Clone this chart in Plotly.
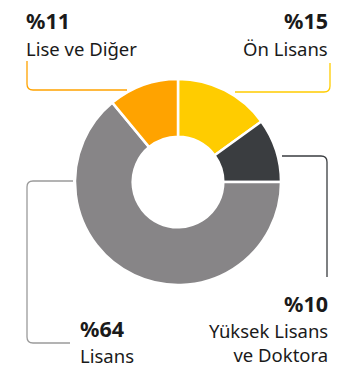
import plotly.graph_objects as go

# Education level distribution
labels = ["Ön Lisans", "Yüksek Lisans ve Doktora", "Lisans", "Lise ve Diğer"]
values = [15, 10, 64, 11]
colors = ["#FFCC00", "#3A3D40", "#878587", "#FFA300"]
line_colors = ["#FFCC00", "#3A3D40", "#9A9A9A", "#FFA300"]

W, H = 353, 368
CX, CY, R = 178, 182, 103


def px(x):
    return x / W


def py(y):
    return 1 - y / H


def path(points, radius=6):
    """Polyline in pixel space with rounded corners, returned in paper coords."""
    d = []
    n = len(points)
    for i, (x, y) in enumerate(points):
        if i == 0:
            d.append(f"M{px(x)},{py(y)}")
        elif i == n - 1:
            d.append(f"L{px(x)},{py(y)}")
        else:
            x0, y0 = points[i - 1]
            x1, y1 = points[i + 1]

            def toward(ax, ay, bx, by, r):
                dx, dy = bx - ax, by - ay
                ln = (dx * dx + dy * dy) ** 0.5
                return ax + dx / ln * r, ay + dy / ln * r

            ax_, ay_ = toward(x, y, x0, y0, radius)
            bx_, by_ = toward(x, y, x1, y1, radius)
            d.append(f"L{px(ax_)},{py(ay_)}")
            d.append(f"Q{px(x)},{py(y)} {px(bx_)},{py(by_)}")
    return " ".join(d)


fig = go.Figure(
    go.Pie(
        labels=labels,
        values=values,
        hole=0.44,
        sort=False,
        direction="clockwise",
        rotation=0,
        marker=dict(colors=colors, line=dict(color="white", width=2.5)),
        textinfo="none",
        hoverinfo="label+percent",
        domain=dict(x=[px(CX - R), px(CX + R)], y=[py(CY + R), py(CY - R)]),
    )
)

leaders = [
    [(330, 63), (330, 92), (235, 92)],
    [(282, 156), (327, 156), (327, 277)],
    [(73, 181), (27, 181), (27, 343), (70, 343)],
    [(27, 61), (27, 90), (127, 90)],
]
shapes = [
    dict(type="path", xref="paper", yref="paper", path=path(pts),
         line=dict(color=c, width=1.3))
    for pts, c in zip(leaders, line_colors)
]

FONT = "Noto Sans"
ann = []


def add_label(x, y_pct, y_txt, pct, txt, anchor):
    ann.append(dict(x=px(x), y=py(y_pct), xref="paper", yref="paper",
                    text=f"<b>%{pct}</b>", showarrow=False, xanchor=anchor,
                    yanchor="middle", font=dict(family=FONT, size=21.5, color="#1a1a1a")))
    ann.append(dict(x=px(x), y=py(y_txt), xref="paper", yref="paper",
                    text=txt, showarrow=False, xanchor=anchor, yanchor="middle",
                    align="right" if anchor == "right" else "left",
                    font=dict(family=FONT, size=18.5, color="#1a1a1a")))


add_label(330, 21, 48, values[0], "Ön Lisans", "right")
add_label(330, 303, 342, values[1], "Yüksek Lisans<br>ve Doktora", "right")
add_label(78, 328, 355, values[2], "Lisans", "left")
add_label(24, 21, 48, values[3], "Lise ve Diğer", "left")

fig.update_layout(
    width=W, height=H,
    margin=dict(l=0, r=0, t=0, b=0),
    paper_bgcolor="white",
    plot_bgcolor="white",
    showlegend=False,
    shapes=shapes,
    annotations=ann,
)

fig.write_html("out.html")
